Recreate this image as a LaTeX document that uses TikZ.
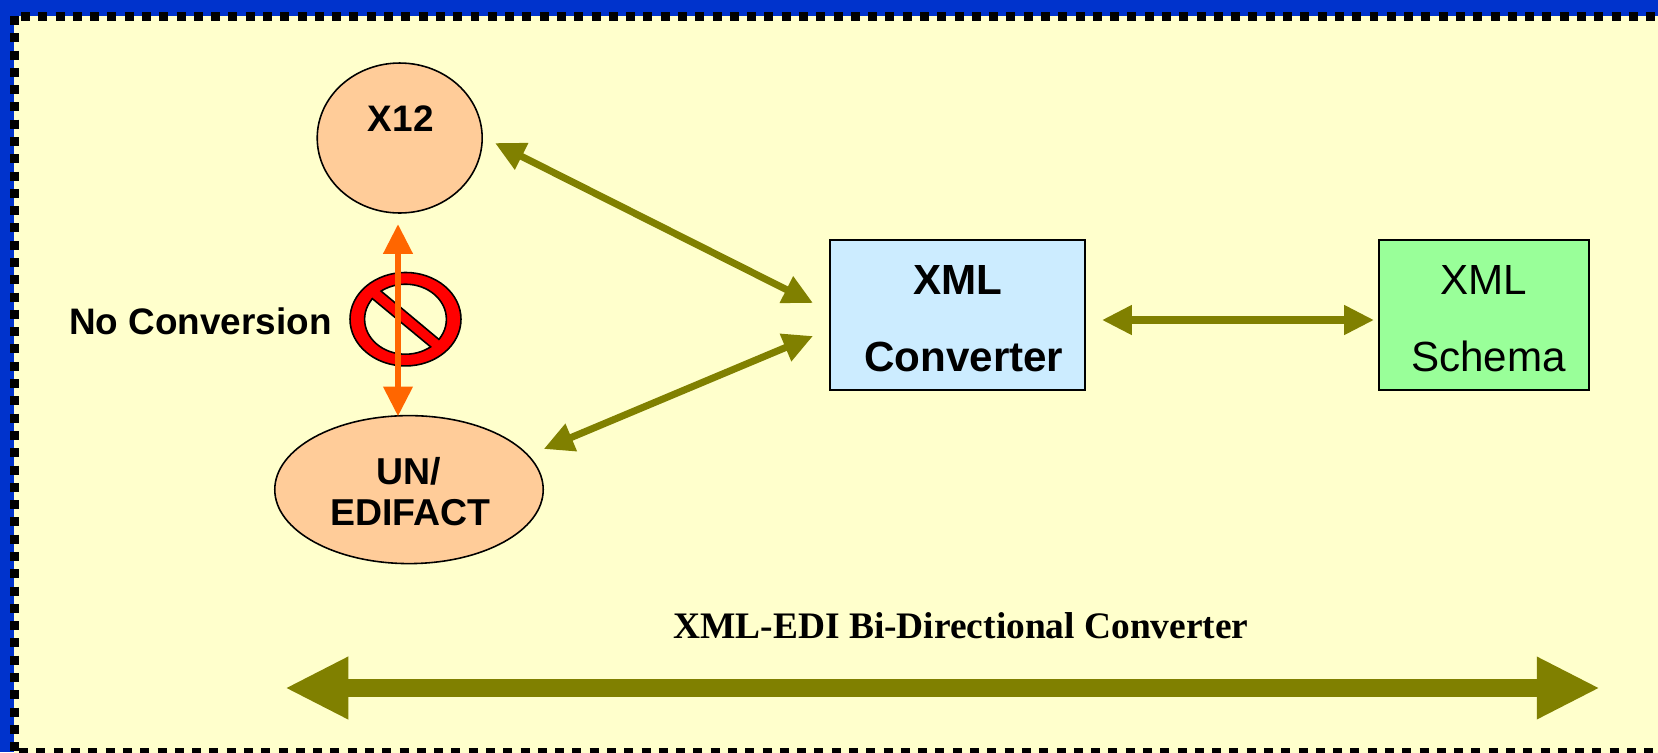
\documentclass[tikz,border=0pt]{standalone}
\usepackage{fontspec}
\setmainfont{Liberation Sans}
\newfontfamily\titlefont{Liberation Serif}
\usetikzlibrary{arrows.meta,shapes.geometric}
\definecolor{framebg}{HTML}{FFFFCC}
\definecolor{frameblue}{HTML}{0033CC}
\definecolor{peach}{HTML}{FFCC99}
\definecolor{boxblue}{HTML}{CCECFF}
\definecolor{boxgreen}{HTML}{99FF99}
\definecolor{olive}{HTML}{808000}
\definecolor{orangeline}{HTML}{FF6600}
\tikzset{
  framedash/.style={line width=5.1pt,dash pattern=on 5.12pt off 4.72pt},
  fmt/.style={draw=black,line width=0.9pt,inner sep=0pt,outer sep=0pt,align=center},
  round/.style={fmt,ellipse,fill=peach,font=\fontsize{21}{23.5}\selectfont\bfseries},
  box/.style={fmt,rectangle,minimum width=#1,minimum height=3cm,font=\fontsize{24}{30}\selectfont},
  thin arrow/.style={draw=olive,line width=4pt,{Triangle[length=17pt,width=16pt]}-{Triangle[length=17pt,width=16pt]}},
}
\begin{document}
\begin{tikzpicture}[x=0.02cm,y=-0.02cm]
  \useasboundingbox (0,0) rectangle (1658,752);
  \clip (0,0) rectangle (1658,752);
  \fill[frameblue] (0,0) rectangle (1658,752);
  \fill[framebg] (14,16) rectangle (1670,770);
  \draw[framedash] (21,16.5) -- (1670,16.5);
  \draw[framedash] (14.5,16) -- (14.5,770);
  \draw[framedash] (19.2,752.5) -- (1670,752.5);

  \node[round,minimum width=3.3cm,minimum height=3cm] (x12) at (399.7,138) {\hspace*{1.2pt}X12\\[-1pt]~};
  \node[round,minimum width=5.37cm,minimum height=2.96cm,font=\fontsize{21.3}{23.5}\selectfont\bfseries] (edifact) at (409,489.6) {\rule{0pt}{17.5pt}UN/\\\hspace*{1.6pt}EDIFACT};
  \node[box=5.1cm,fill=boxblue,font=\fontsize{24}{30}\selectfont\bfseries] (converter) at (957.5,315) {\rule{0pt}{21pt}XML\\[14pt]\hspace*{7.2pt}Converter};
  \node[box=4.2cm,fill=boxgreen] (schema) at (1484,315) {\rule{0pt}{21pt}XML\\[14pt]\hspace*{5pt}Schema};

  % the no entry sign
  \node[ellipse,draw=black,line width=0.9pt,fill=red,minimum width=2.22cm,minimum height=1.87cm,inner sep=0pt,outer sep=0pt] (nosign) at (405.5,319.2) {};
  \draw[line width=0.9pt,fill=framebg] (405.5,319.2) ellipse [x radius=40.9,y radius=35];
  \fill[red] (365.3,292.8) -- (374.6,285.7) -- (445.4,344.8) -- (436.4,351.6) -- cycle;
  \begin{scope}
    \clip (405.5,319.2) ellipse [x radius=41.7,y radius=35.8];
    \draw[line width=0.9pt] (365.3,292.8) -- (436.4,351.6);
    \draw[line width=0.9pt] (374.6,285.7) -- (445.4,344.8);
  \end{scope}

  \node[font=\fontsize{21}{25}\selectfont\bfseries,anchor=east,inner sep=0pt] (noconv) at (332,321) {No Conversion};
  \node[font=\fontsize{21.3}{25}\selectfont\bfseries\titlefont,inner sep=0pt] (title) at (961,626) {XML-EDI Bi-Directional Converter};

  \draw[thin arrow] ([shift={(12.8,5)}]x12.east) -- ([shift={(-17,-12)}]converter.west);
  \draw[thin arrow] ([shift={(0.5,-40.6)}]edifact.east) -- ([shift={(-17,21)}]converter.west);
  \draw[thin arrow] ([shift={(17,5)}]converter.east) -- ([shift={(-5,5)}]schema.west);
  \draw[orangeline,line width=3.8pt,{Triangle[length=17pt,width=16pt]}-{Triangle[length=17pt,width=16pt]}]
    ([shift={(-1.7,11)}]x12.south) -- ([shift={(-11,0.8)}]edifact.north);

  \coordinate (bigleft) at (285,688);
  \coordinate (bigright) at (1600,688);
  \draw[olive,line width=10pt,{Triangle[length=36pt,width=33pt]}-{Triangle[length=36pt,width=33pt]}] (bigleft) -- (bigright);
\end{tikzpicture}
\end{document}
